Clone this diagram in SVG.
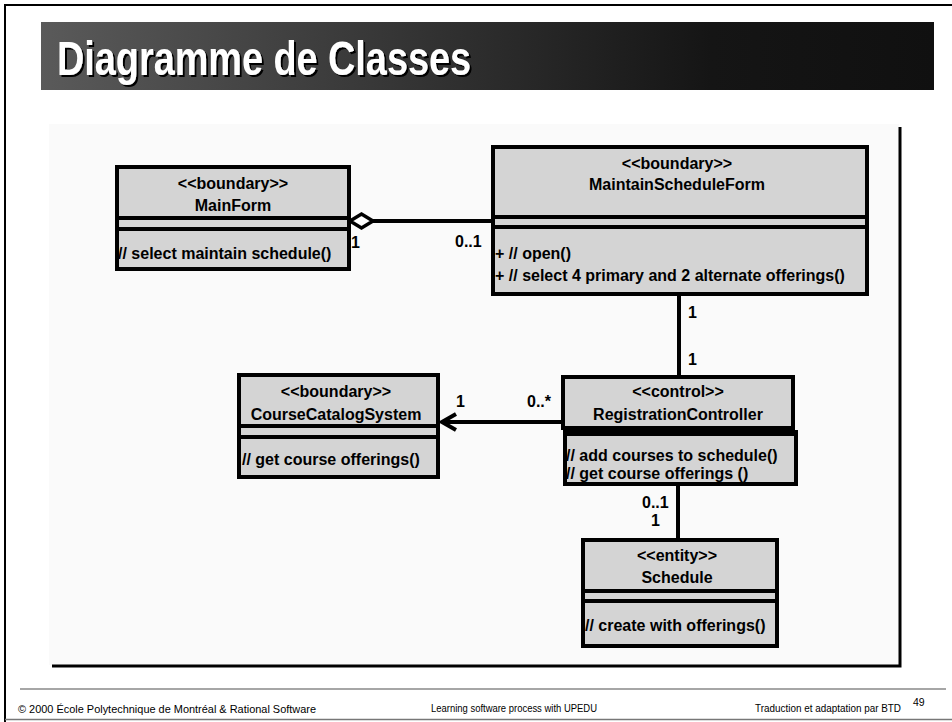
<svg xmlns="http://www.w3.org/2000/svg" width="952" height="722" viewBox="0 0 952 722">
<defs>
<linearGradient id="tg" x1="0" y1="0" x2="1" y2="0">
<stop offset="0" stop-color="#5a5a5a"/>
<stop offset="0.75" stop-color="#151515"/>
<stop offset="1" stop-color="#101010"/>
</linearGradient>
<filter id="sh" x="-5%" y="-20%" width="110%" height="140%">
<feOffset in="SourceAlpha" dx="2" dy="2" result="o"/>
<feMerge><feMergeNode in="o"/><feMergeNode in="SourceGraphic"/></feMerge>
</filter>
<style>
.box{fill:#d4d4d4;stroke:#000;stroke-width:4}
.sep{stroke:#000;stroke-width:4}
.t{font-family:"Liberation Sans",Arial,sans-serif;font-weight:bold;font-size:16px;fill:#000}
.c{text-anchor:middle}
.ln{stroke:#000;stroke-width:4;fill:none}
.ft{font-family:"Liberation Sans",Arial,sans-serif;font-size:10.5px;fill:#000}
</style>
</defs>
<rect x="0" y="0" width="952" height="722" fill="#fff"/>
<path d="M5,722 V5 H952" fill="none" stroke="#000" stroke-width="2"/>
<line x1="5" y1="719.5" x2="952" y2="719.5" stroke="#777" stroke-width="1.5"/>
<rect x="41" y="22" width="893" height="68" fill="url(#tg)"/>
<text x="57" y="75" fill="#fff" filter="url(#sh)" font-family="'Liberation Sans Narrow','Arial Narrow','Liberation Sans',sans-serif" font-size="48" font-weight="bold" textLength="414" lengthAdjust="spacingAndGlyphs">Diagramme de Classes</text>
<rect x="49" y="124" width="850" height="541" fill="#fafafa"/>
<path d="M900,127 V666 H52" fill="none" stroke="#000" stroke-width="3"/>
<g id="connectors">
<line class="ln" x1="373" y1="221" x2="493" y2="221"/>
<path d="M350,221 L361.5,214 L373,221 L361.5,228 Z" fill="#fff" stroke="#000" stroke-width="3.5"/>
<line class="ln" x1="679" y1="294" x2="679" y2="377"/>
<line class="ln" x1="563" y1="422" x2="442" y2="422"/>
<polyline class="ln" points="456,414 442,422 456,430"/>
<line class="ln" x1="678" y1="484" x2="678" y2="540"/>
<text class="t" x="351" y="248">1</text>
<text class="t" x="455" y="247">0..1</text>
<text class="t" x="688" y="318">1</text>
<text class="t" x="688" y="365">1</text>
<text class="t" x="456" y="407">1</text>
<text class="t" x="527" y="407">0..*</text>
<text class="t" x="642" y="508">0..1</text>
<text class="t" x="651" y="526">1</text>
</g>
<g id="MainForm">
<rect class="box" x="117" y="167" width="232" height="102"/>
<line class="sep" x1="117" y1="218" x2="349" y2="218"/>
<line class="sep" x1="117" y1="229" x2="349" y2="229"/>
<text class="t c" x="233" y="189">&lt;&lt;boundary&gt;&gt;</text>
<text class="t c" x="233" y="211">MainForm</text>
<text class="t" x="118" y="259">// select maintain schedule()</text>
</g>
<g id="MaintainScheduleForm">
<rect class="box" x="493" y="147" width="374" height="147"/>
<line class="sep" x1="493" y1="217" x2="867" y2="217"/>
<line class="sep" x1="493" y1="227" x2="867" y2="227"/>
<text class="t c" x="677" y="169">&lt;&lt;boundary&gt;&gt;</text>
<text class="t c" x="677" y="190">MaintainScheduleForm</text>
<text class="t" x="495" y="259">+ // open()</text>
<text class="t" x="495" y="281">+ // select 4 primary and 2 alternate offerings()</text>
</g>
<g id="CourseCatalogSystem">
<rect class="box" x="239" y="375" width="199" height="102"/>
<line class="sep" x1="239" y1="426" x2="438" y2="426"/>
<line class="sep" x1="239" y1="437" x2="438" y2="437"/>
<text class="t c" x="336" y="397">&lt;&lt;boundary&gt;&gt;</text>
<text class="t c" x="336" y="420">CourseCatalogSystem</text>
<text class="t" x="242" y="465">// get course offerings()</text>
</g>
<g id="RegistrationController">
<rect class="box" x="565" y="432" width="231" height="52"/>
<rect class="box" x="563" y="377" width="230" height="51"/>
<line class="sep" x1="563" y1="434" x2="796" y2="434"/>
<text class="t c" x="678" y="397">&lt;&lt;control&gt;&gt;</text>
<text class="t c" x="678" y="420">RegistrationController</text>
<text class="t" x="566" y="461">// add courses to schedule()</text>
<text class="t" x="566" y="479">// get course offerings ()</text>
</g>
<g id="Schedule">
<rect class="box" x="583" y="540" width="194" height="106"/>
<line class="sep" x1="583" y1="591" x2="777" y2="591"/>
<line class="sep" x1="583" y1="601" x2="777" y2="601"/>
<text class="t c" x="677" y="561">&lt;&lt;entity&gt;&gt;</text>
<text class="t c" x="677" y="583">Schedule</text>
<text class="t" x="585" y="631">// create with offerings()</text>
</g>
<line x1="20" y1="689" x2="946" y2="689" stroke="#888" stroke-width="1.5"/>
<text class="ft" x="18" y="713" textLength="298" lengthAdjust="spacingAndGlyphs">© 2000 École Polytechnique de Montréal  &amp; Rational Software</text>
<text class="ft" x="431" y="712" textLength="166" lengthAdjust="spacingAndGlyphs">Learning software process with UPEDU</text>
<text class="ft" x="755" y="712" textLength="146" lengthAdjust="spacingAndGlyphs">Traduction et adaptation par BTD</text>
<text class="ft" x="913" y="706" font-size="12">49</text>
</svg>
